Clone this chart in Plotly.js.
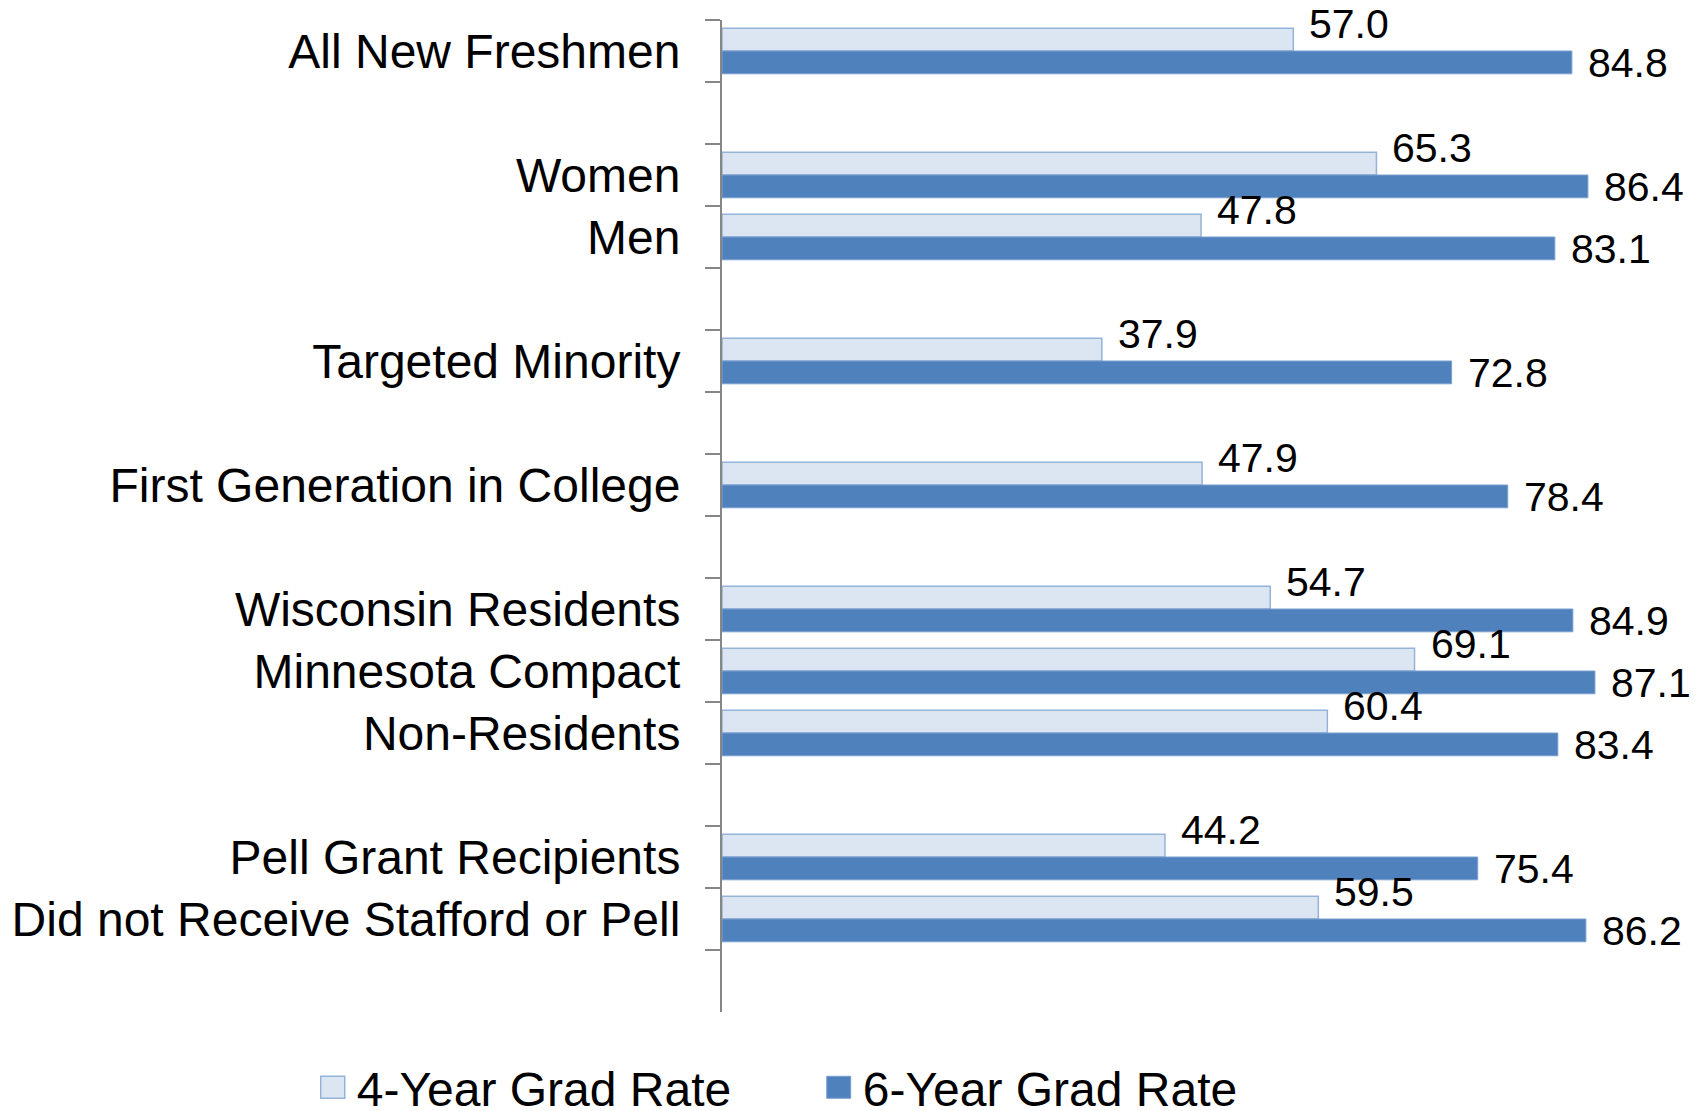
<!DOCTYPE html>
<html>
<head>
<meta charset="utf-8">
<script src="https://cdn.plot.ly/plotly-3.0.1.min.js"></script>
<style>
  html, body { margin: 0; padding: 0; background: #fff; }
  #chart { width: 1704px; height: 1111px; }
</style>
</head>
<body>
<div id="chart"></div>
<script>
// categories top to bottom, blank rows are spacers
const categories = [
    'All New Freshmen', ' ', 'Women', 'Men', '  ', 'Targeted Minority', '   ',
    'First Generation in College', '    ', 'Wisconsin Residents', 'Minnesota Compact',
    'Non-Residents', '     ', 'Pell Grant Recipients', 'Did not Receive Stafford or Pell', '      '
];
const rate4 = [57.0, null, 65.3, 47.8, null, 37.9, null, 47.9, null, 54.7, 69.1, 60.4, null, 44.2, 59.5, null];
const rate6 = [84.8, null, 86.4, 83.1, null, 72.8, null, 78.4, null, 84.9, 87.1, 83.4, null, 75.4, 86.2, null];

const FONT = "'Liberation Sans', Arial, sans-serif";

const CHART = document.getElementById('chart');

const data = [
    {
        type: 'bar',
        orientation: 'h',
        name: '4-Year Grad Rate',
        y: categories,
        x: rate4,
        marker: { color: '#DCE6F2', line: { color: '#95B3D7', width: 1.5 } },
        hoverinfo: 'skip'
    },
    {
        type: 'bar',
        orientation: 'h',
        name: '6-Year Grad Rate',
        y: categories,
        x: rate6,
        marker: { color: '#4F81BD', line: { color: '#7A9FCF', width: 1 } },
        hoverinfo: 'skip'
    }
];

// value labels next to the bar ends
const annotations = [];
categories.forEach((c, i) => {
    if (rate4[i] != null) {
        annotations.push({
            x: rate4[i], y: c, xref: 'x', yref: 'y',
            text: rate4[i].toFixed(1), showarrow: false,
            xanchor: 'left', yanchor: 'middle', xshift: 14, yshift: 27,
            font: { family: FONT, size: 41, color: '#000' }
        });
    }
    if (rate6[i] != null) {
        annotations.push({
            x: rate6[i], y: c, xref: 'x', yref: 'y',
            text: rate6[i].toFixed(1), showarrow: false,
            xanchor: 'left', yanchor: 'middle', xshift: 14, yshift: -12,
            font: { family: FONT, size: 41, color: '#000' }
        });
    }
});

const layout = {
    width: 1704,
    height: 1111,
    margin: { l: 722, r: 80, t: 20, b: 99, autoexpand: false },
    paper_bgcolor: '#fff',
    plot_bgcolor: '#fff',
    font: { family: FONT, color: '#000' },
    barmode: 'group',
    bargap: 0.265,
    bargroupgap: 0,
    showlegend: true,
    legend: {
        orientation: 'h',
        x: -0.4493, xanchor: 'left',
        y: -0.0762, yanchor: 'middle',
        font: { family: FONT, size: 48, color: '#000' },
        entrywidth: 461,
        traceorder: 'normal'
    },
    xaxis: {
        range: [0, 90],
        visible: false,
        showgrid: false,
        zeroline: false
    },
    yaxis: {
        type: 'category',
        categoryorder: 'array',
        categoryarray: categories,
        range: [15.5, -0.5],
        showline: true,
        linecolor: '#868686',
        linewidth: 2,
        ticks: 'outside',
        tickson: 'boundaries',
        ticklen: 15,
        tickwidth: 2,
        tickcolor: '#868686',
        ticklabelstandoff: 30,
        tickfont: { family: FONT, size: 48, color: '#000' },
        showgrid: false,
        zeroline: false
    },
    annotations: annotations
};

Plotly.newPlot(CHART, data, layout, { staticPlot: true }).then(() => {
    // bigger legend squares, like the original
    CHART.querySelectorAll('.legendpoints path').forEach(p => {
        p.setAttribute('d', 'M8,11H-16V-11H8Z');
    });
});
</script>
</body>
</html>
